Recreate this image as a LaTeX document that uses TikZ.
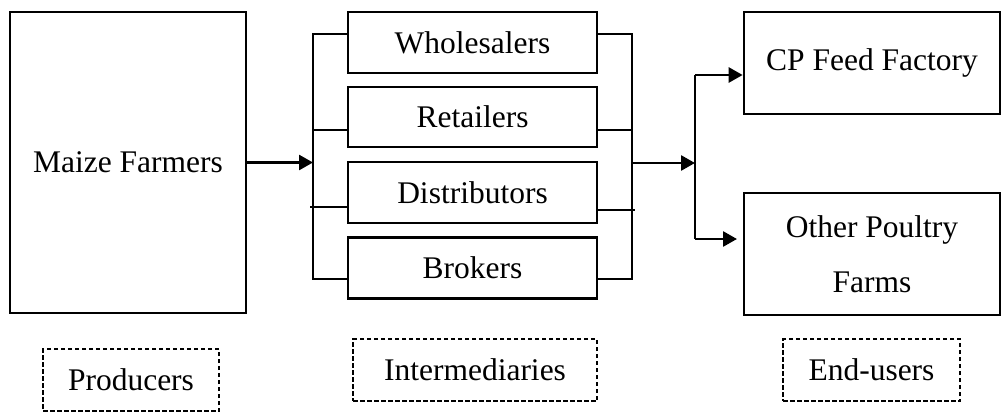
\documentclass[tikz,border=0pt]{standalone}
\usepackage{fontspec}
\setmainfont{Liberation Serif}
\usetikzlibrary{arrows.meta}
\begin{document}
\begin{tikzpicture}[x=1pt,y=-1pt,
  every node/.style={font=\fontsize{31.5}{55}\selectfont},
  boxnode/.style={draw,line width=2.7pt,inner sep=0pt,align=center},
  tagbox/.style={draw,line width=2pt,dash pattern=on 4.5pt off 2.5pt,inner sep=0pt},
  link/.style={line width=2.7pt},
  thinlink/.style={line width=1.1pt},
  flow/.style={line width=2.7pt,-{Triangle[length=14pt,width=15pt]}}]
\useasboundingbox (0,0) rectangle (1005,412);

% producers
\node[boxnode,minimum width=236pt,minimum height=301pt] (M) at (128,162.5) {Maize Farmers};

% intermediaries
\node[boxnode,minimum width=249pt,minimum height=61pt] (W) at (472.5,42.5) {Wholesalers};
\node[boxnode,minimum width=249pt,minimum height=60pt] (R) at (472.5,117) {Retailers};
\node[boxnode,minimum width=249pt,minimum height=61pt] (D) at (472.5,192.5) {Distributors};
\node[boxnode,minimum width=249pt,minimum height=61pt] (B) at (472.5,268) {Brokers};

% end users
\node[boxnode,minimum width=256pt,minimum height=102pt] (CP) at (872,63) {\raisebox{6pt}{CP Feed Factory}};
\node[boxnode,minimum width=256pt,minimum height=122pt] (O) at (872,254) {Other Poultry\\Farms};

% group tags
\node[tagbox,minimum width=176pt,minimum height=62pt] (tP) at (131,380) {Producers};
\node[tagbox,minimum width=244pt,minimum height=62pt] (tI) at (475,370) {Intermediaries};
\node[tagbox,minimum width=177pt,minimum height=62pt] (tE) at (871.5,370) {End-users};

% attachment points on the intermediary boxes
\coordinate (wl) at ([yshift=8.5pt]W.west);
\coordinate (wr) at ([yshift=8.5pt]W.east);
\coordinate (rl) at ([yshift=-13pt]R.west);
\coordinate (rr) at ([yshift=-13pt]R.east);
\coordinate (dl) at ([yshift=-14.5pt]D.west);
\coordinate (dr) at ([yshift=-17.5pt]D.east);
\coordinate (bl) at ([yshift=-11pt]B.west);
\coordinate (br) at ([yshift=-11pt]B.east);

% left bracket
\coordinate (lt) at (313,34);
\coordinate (lb) at (313,279);
\draw[link] (wl) -- (lt) -- (lb) -- (bl);
\draw[thinlink] (rl) -- (rl -| lt);
\draw[thinlink] (dl) -- ++(-37,0);
\draw[flow] (M.east) -- (M.east -| lt);

% right bracket
\coordinate (rt) at (632,34);
\coordinate (rb) at (632,279);
\draw[link] (wr) -- (rt) -- (rb) -- (br);
\draw[thinlink] (rr) -- (rr -| rt);
\draw[thinlink] (dr) -- ++(37,0);

% fork to end users
\coordinate (rm) at (632,163);
\coordinate (fork) at (695,163);
\coordinate (ft) at (695,75);
\coordinate (fb) at (695,239);
\coordinate (fbe) at (737,239);
\draw[flow] (rm) -- (fork);
\draw[link] (ft) -- (fb);
\draw[flow] (ft) -- (ft -| CP.west);
\draw[flow] (fb) -- (fbe);
\end{tikzpicture}
\end{document}
